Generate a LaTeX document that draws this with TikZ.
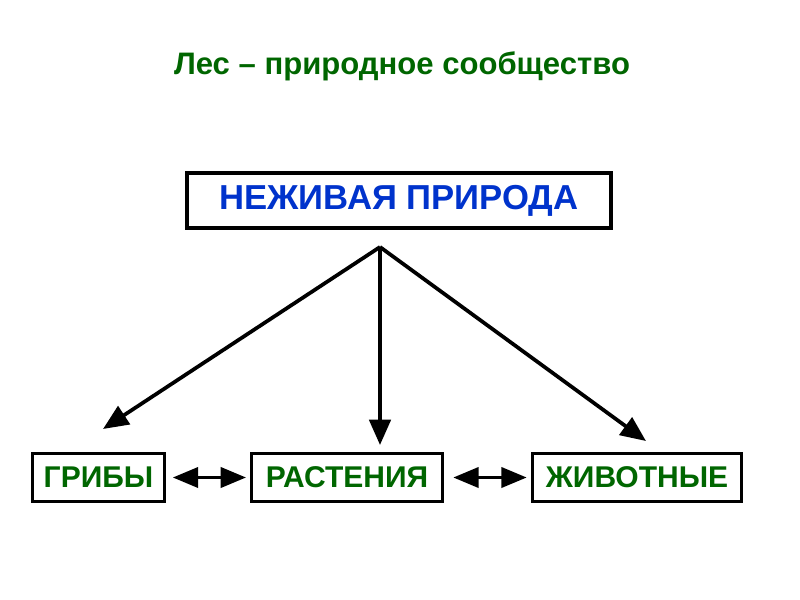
\documentclass[tikz,border=0pt]{standalone}
\usepackage{fontspec}
\setmainfont{Liberation Sans}
\usetikzlibrary{arrows.meta}
\definecolor{tgreen}{HTML}{006600}
\definecolor{tblue}{HTML}{0033CC}
\begin{document}
\begin{tikzpicture}[x=0.75pt,y=-0.75pt,
  box/.style={draw=black,line width=2.4pt,inner sep=0pt,fill=white},
  topbox/.style={box,line width=3pt,minimum width=318pt,minimum height=41pt,text=tblue,font=\bfseries\fontsize{26}{30}\selectfont},
  lowbox/.style={box,minimum height=36pt,text=tgreen,font=\bfseries\fontsize{22.5}{26}\selectfont},
  arr/.style={line width=2.8pt,-{Triangle[length=19pt,width=16pt]}},
  darr/.style={line width=2.8pt,{Triangle[length=19pt,width=15pt]}-{Triangle[length=19pt,width=15pt]}}]
\useasboundingbox (0,0) rectangle (800,600);
\fill[white] (0,0) rectangle (800,600);
\node[text=tgreen,font=\bfseries\fontsize{23.3}{27}\selectfont] (title) at (402,66) {Лес – природное сообщество};
\node[topbox] (top) at (399,200.5) {НЕЖИВАЯ ПРИРОДА};
\node[lowbox,minimum width=99pt] (g) at (98.5,477.5) {ГРИБЫ};
\node[lowbox,minimum width=143pt] (r) at (347,477.5) {РАСТЕНИЯ};
\node[lowbox,minimum width=157pt] (z) at (637,477.5) {ЖИВОТНЫЕ};
\coordinate (apex) at (380,247);
\coordinate (eg) at (103,429);
\coordinate (er) at (380,445);
\coordinate (ez) at (646,441);
\draw[arr] (apex) -- (eg);
\draw[arr] (apex) -- (er);
\draw[arr] (apex) -- (ez);
\draw[darr,shorten <=5pt,shorten >=3pt] (g.east) -- (r.west);
\draw[darr,shorten <=7pt,shorten >=3pt] (r.east) -- (z.west);
\end{tikzpicture}
\end{document}
